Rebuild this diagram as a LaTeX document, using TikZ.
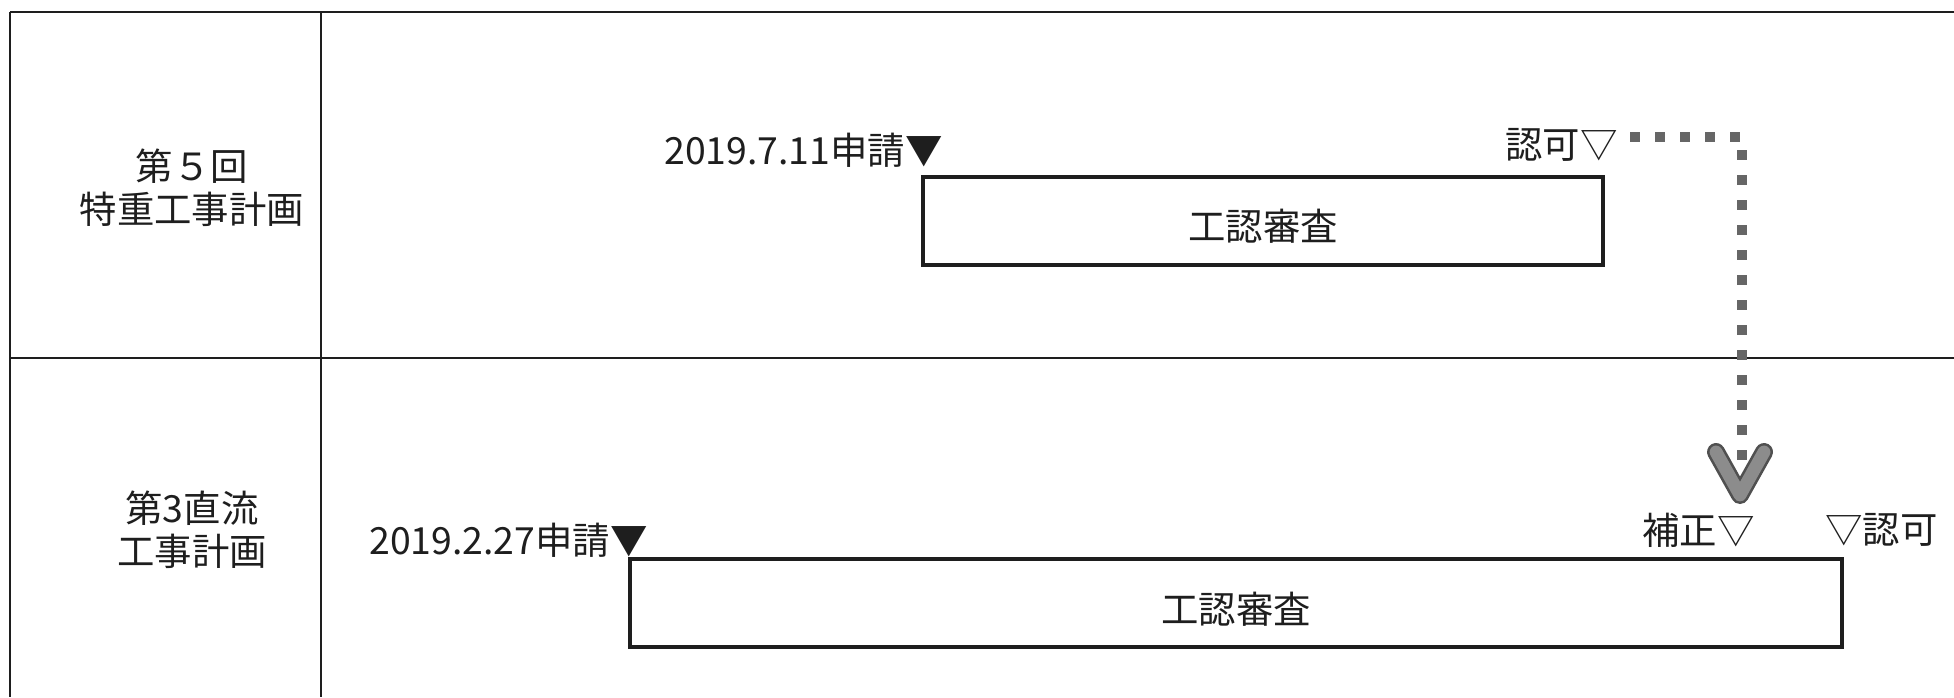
\documentclass[tikz,border=0pt]{standalone}
\usepackage{fontspec}
\setmainfont{Noto Sans CJK JP}
\definecolor{ink}{HTML}{1E1E1E}
\definecolor{dotgray}{HTML}{666666}
\definecolor{chevdark}{HTML}{505050}
\definecolor{chevlight}{HTML}{8C8C8C}
\begin{document}
\begin{tikzpicture}[x=0.5pt,y=-0.5pt,
  every node/.style={text=ink,font=\fontsize{18.7pt}{21.5pt}\selectfont,inner sep=0pt},
  tline/.style={draw=ink,line width=1.3pt},
  phasebox/.style={draw=ink,line width=2pt,rectangle},
  lbl/.style={align=center},
  dotline/.style={draw=dotgray,line width=5pt,dash pattern=on 5pt off 7.5pt},
]
\useasboundingbox (0,0) rectangle (1954,697);
% table
\draw[tline] (10,12) -- (1954,12);
\draw[tline] (10,12) -- (10,697);
\draw[tline] (321,12) -- (321,697);
\draw[tline] (10,358) -- (1954,358);
% row labels
\node[lbl] (row1) at (192,188) {第５回\\特重工事計画};
\node[lbl] (row2) at (192,530) {第3直流\\工事計画};
% boxes
\node[phasebox,minimum width=340pt,minimum height=44pt] (box1) at (1263,221) {};
\node (box1t) at (1263,226) {工認審査};
\node[phasebox,minimum width=606pt,minimum height=44pt] (box2) at (1236,603) {};
\node (box2t) at (1236,609) {工認審査};
% labels
\node[anchor=east] (app1) at (943,150) {2019.7.11申請▼};
\node[anchor=east] (kyoka1) at (1618,145) {認可▽};
\node[anchor=east] (app2) at (648,540) {2019.2.27申請▼};
\node[anchor=east] (hosei) at (1755,530) {補正▽};
\node[anchor=west] (kyoka2) at (1825,530) {▽認可};
% chevron arrow head
\coordinate (tip) at (1740,495);
\draw[chevdark,line width=9pt,line cap=round,line join=round] (1716,452) -- (tip) -- (1764,452);
\draw[chevlight,line width=6.4pt,line cap=round,line join=round] (1716,452) -- (tip) -- (1764,452);
% dotted connector
\coordinate (corner) at (1742,137);
\coordinate (dend) at (1742,467);
\draw[dotline] ([xshift=6pt,yshift=4pt]kyoka1.east) -- (corner) -- (dend);
\end{tikzpicture}
\end{document}
